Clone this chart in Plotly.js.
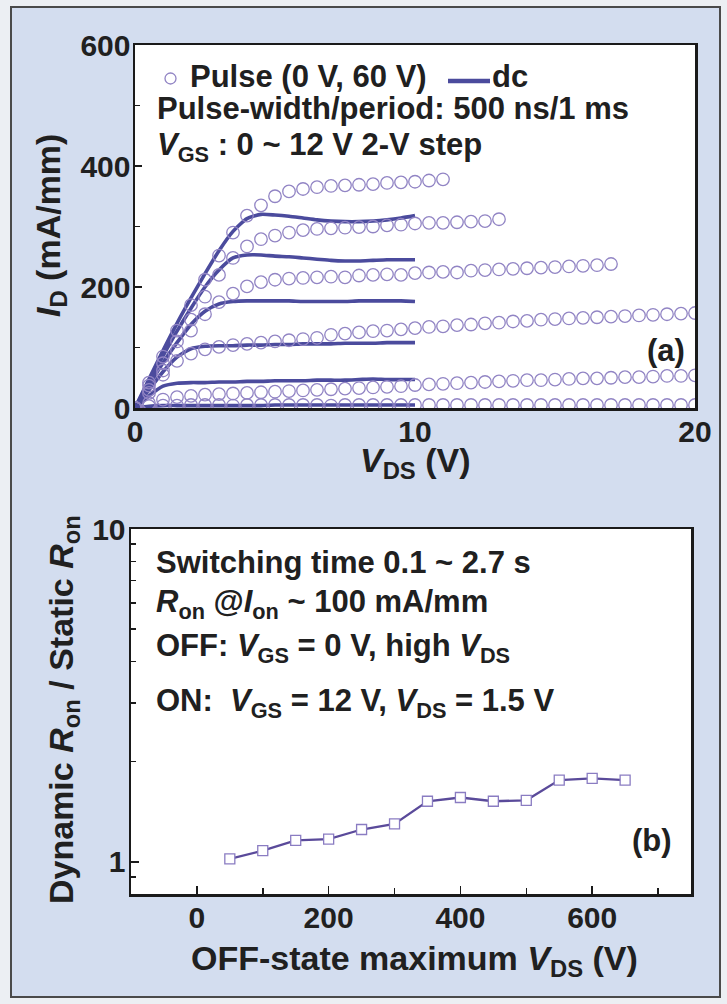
<!DOCTYPE html>
<html><head><meta charset="utf-8">
<script src="https://cdn.plot.ly/plotly-3.0.1.min.js"></script>
<style>html,body{margin:0;padding:0;background:#eceff3;}#chart{width:727px;height:1004px;}</style>
</head><body><div id="chart"></div>
<script>
// ---------- data (a) ----------
const pulseV = [0,0.5,1,1.5,2,2.5,3,3.5,4,4.5,5,5.5,6,6.5,7,7.5,8,8.5,9,9.5,10,10.5,11,11.5,12,12.5,13,13.5,14,14.5,15,15.5,16,16.5,17,17.5,18,18.5,19,19.5,20];
const pulse12 = [0,42,85,128,170,212,252,290,318,335,350,358,362,365,367,368,369,370,372,373,374,376,378];
const pulse10 = [0,37,74,110,146,184,220,248,267,279,285,290,294,296,297,298,299,300,302,303,305,306,306,307,308,309,312];
const pulse8  = [0,30,62,95,128,155,175,189,201,208,212,214,215,216,217,216,219,220,221,220,223,224,225,224,227,228,229,230,231,232,233,234,235,236,238];
const pulse6  = [0,25,55,78,90,97,101,104,106,108,110,112,114,116,121,123,125,127,128,130,132,134,135,137,138,140,141,143,144,146,147,148,149,150,151,152,153,154,155,156,157];
const pulse4  = [0,8,14,18,20,22,23,24,25,26,27,28,29,30,31,32,33,34,35,36,38,39,40,41,42,43,44,45,46,46,47,48,49,49,50,51,51,52,53,53,54];
const pulse2  = [0,3,4,4,5,5,5,4,5,5,5,5,5,5,4,5,5,5,5,5,5,5,5,5,5,5,5,5,5,5,5,5,5,5,5,5,5,5,5,5,5];

const dcV  = [0,0.5,1,1.5,2,2.5,3,3.5,4,4.5,5,5.5,6,6.5,7,7.5,8,8.5,9,9.5,10];
const dc12 = [0,48,95,140,182,222,260,292,313,320,319,317,314,311,309,308,308,309,311,314,318];
const dc10 = [0,44,86,127,165,200,228,248,253,253,251,250,248,246,244,243,243,244,245,245,245];
const dc8  = [0,38,75,108,138,160,172,176,177,177,177,177,176,176,176,176,177,177,177,177,176];
const dc6  = [0,30,60,84,98,102,103,103,104,104,105,105,106,106,106,107,107,107,108,108,108];
const dc4  = [0,20,36,41,42,42,43,43,44,44,45,45,45,46,46,46,47,48,47,47,47];
const dc2  = [0,3,4,4,4,4,4,4,4,4,5,5,5,5,5,5,5,5,5,5,5];

// ---------- data (b) ----------
const offVds   = [50,100,150,200,250,300,350,400,450,500,550,600,650];
const ronRatio = [1.02,1.08,1.16,1.17,1.25,1.30,1.52,1.56,1.52,1.53,1.76,1.78,1.76];

// ---------- styling ----------
const W = 727, H = 1004;
const FONT = 'Liberation Sans, Arial, Helvetica, sans-serif';
const TXT = '#202020';
const DC_COLOR = '#4b4b9d';
const PULSE_COLOR = '#9184c4';
const px = v => v / W;
const py = v => 1 - v / H;

const pulseSets = [pulse12, pulse10, pulse8, pulse6, pulse4, pulse2];
const dcSets = [dc12, dc10, dc8, dc6, dc4, dc2];

const traces = [];
dcSets.forEach(d => traces.push({
  x: dcV.slice(0, d.length), y: d, type: 'scatter', mode: 'lines',
  line: {color: DC_COLOR, width: 3.6, shape: 'spline', smoothing: 0.6},
  xaxis: 'x', yaxis: 'y', showlegend: false, hoverinfo: 'skip'
}));
pulseSets.forEach(p => traces.push({
  x: pulseV.slice(0, p.length), y: p, type: 'scatter', mode: 'markers',
  marker: {symbol: 'circle-open', size: 12.5, color: PULSE_COLOR, line: {width: 1.3, color: PULSE_COLOR}},
  xaxis: 'x', yaxis: 'y', showlegend: false, hoverinfo: 'skip'
}));
traces.push({
  x: offVds, y: ronRatio, type: 'scatter', mode: 'lines+markers',
  line: {color: '#5a4a9a', width: 2.3},
  marker: {symbol: 'square', size: 10, color: '#ffffff', line: {width: 1.3, color: '#8a7cc2'}},
  xaxis: 'x2', yaxis: 'y2', showlegend: false, hoverinfo: 'skip'
});

const tickFont = {family: FONT, size: 30, color: TXT, weight: 'bold'};
const axisBase = {
  showline: true, mirror: true, linecolor: '#1a1a1a', linewidth: 2.5,
  showgrid: false, zeroline: false, ticks: 'inside', tickcolor: '#1a1a1a',
  tickwidth: 1.5, tickfont: tickFont
};

const ann = [];
function txt(text, x, y, opts) {
  ann.push(Object.assign({
    text: text, xref: 'paper', yref: 'paper', x: px(x), y: py(y),
    xanchor: 'left', yanchor: 'middle', showarrow: false,
    font: {family: FONT, size: 31, color: TXT, weight: 'bold'}
  }, opts || {}));
}
const titleFont = {family: FONT, size: 34, color: TXT, weight: 'bold'};
// panel (a) texts
txt('Pulse (0 V, 60 V)', 188, 76);
txt('dc', 490, 76);
txt('Pulse-width/period: 500 ns/1 ms', 155, 108);
txt('<i>V</i><sub>GS</sub> : 0 ~ 12 V 2-V step', 155, 147);
txt('(a)', 666, 350, {xanchor: 'center', font: {family: FONT, size: 31, color: TXT, weight: 'bold'}});
txt('<i>I</i><sub>D</sub> (mA/mm)', 50, 226, {xanchor: 'center', textangle: -90, font: titleFont});
txt('<i>V</i><sub>DS</sub> (V)', 415, 462, {xanchor: 'center', font: titleFont});
// panel (b) texts
txt('Switching time 0.1 ~ 2.7 s', 154, 562);
txt('<i>R</i><sub>on</sub> @<i>I</i><sub>on</sub> ~ 100 mA/mm', 154, 604);
txt('OFF: <i>V</i><sub>GS</sub> = 0 V, high <i>V</i><sub>DS</sub>', 154, 648);
txt('ON:\u00A0 <i>V</i><sub>GS</sub> = 12 V, <i>V</i><sub>DS</sub> = 1.5 V', 154, 703);
txt('(b)', 652, 840, {xanchor: 'center', font: {family: FONT, size: 31, color: TXT, weight: 'bold'}});
txt('Dynamic <i>R</i><sub>on</sub> / Static <i>R</i><sub>on</sub>', 63, 710, {xanchor: 'center', textangle: -90, font: titleFont});
txt('OFF-state maximum <i>V</i><sub>DS</sub> (V)', 414, 960, {xanchor: 'center', font: titleFont});

const OUT = '#eceff3';
const shapes = [
  {type: 'rect', xref: 'paper', yref: 'paper', x0: 0, x1: px(11), y0: 0, y1: 1, fillcolor: OUT, line: {width: 0}},
  {type: 'rect', xref: 'paper', yref: 'paper', x0: px(720), x1: 1, y0: 0, y1: 1, fillcolor: OUT, line: {width: 0}},
  {type: 'rect', xref: 'paper', yref: 'paper', x0: 0, x1: 1, y0: py(7), y1: 1, fillcolor: OUT, line: {width: 0}},
  {type: 'rect', xref: 'paper', yref: 'paper', x0: 0, x1: 1, y0: 0, y1: py(997), fillcolor: OUT, line: {width: 0}},
  {type: 'rect', xref: 'paper', yref: 'paper', x0: px(11), x1: px(720), y0: py(997), y1: py(7), line: {color: '#4a4a4a', width: 2}},
  // legend symbols
  {type: 'circle', xref: 'paper', yref: 'paper', x0: px(165), x1: px(176), y0: py(84), y1: py(73), line: {color: PULSE_COLOR, width: 1.3}},
  {type: 'line', xref: 'paper', yref: 'paper', x0: px(448), x1: px(490), y0: py(81), y1: py(81), line: {color: DC_COLOR, width: 4.5}}
];

const layout = {
  width: W, height: H, margin: {l: 0, r: 0, t: 0, b: 0},
  paper_bgcolor: '#d3ddef', plot_bgcolor: '#ffffff',
  font: {family: FONT, color: TXT},
  xaxis: Object.assign({}, axisBase, {
    domain: [px(135), px(695)], range: [0, 20], dtick: 10, tick0: 0, ticks: '',
    anchor: 'y', ticklabelstandoff: -5
  }),
  yaxis: Object.assign({}, axisBase, {
    domain: [py(408), py(45)], range: [0, 600], dtick: 200, tick0: 0, ticklen: 7,
    minor: {dtick: 100, ticks: 'inside', ticklen: 5, tickcolor: '#1a1a1a'},
    anchor: 'x', ticklabelstandoff: -4
  }),
  xaxis2: Object.assign({}, axisBase, {
    domain: [px(131), px(691)], range: [-100, 750], dtick: 200, tick0: 0, ticklen: 8,
    minor: {dtick: 100, ticks: 'inside', ticklen: 6, tickcolor: '#1a1a1a'},
    anchor: 'y2', ticklabelstandoff: -5
  }),
  yaxis2: Object.assign({}, axisBase, {
    domain: [py(894), py(529)], type: 'log', range: [Math.log10(0.8), 1],
    tickmode: 'array', tickvals: [1, 10], ticktext: ['1', '10'], ticklen: 8,
    minor: {tickmode: 'array', tickvals: [0.9, 2, 3, 4, 5, 6, 7, 8, 9], ticks: 'inside', ticklen: 5, tickcolor: '#1a1a1a'},
    anchor: 'x2', ticklabelstandoff: -3
  }),
  annotations: ann,
  shapes: shapes
};

Plotly.newPlot('chart', traces, layout, {displayModeBar: false, staticPlot: true});
</script>
</body></html>
